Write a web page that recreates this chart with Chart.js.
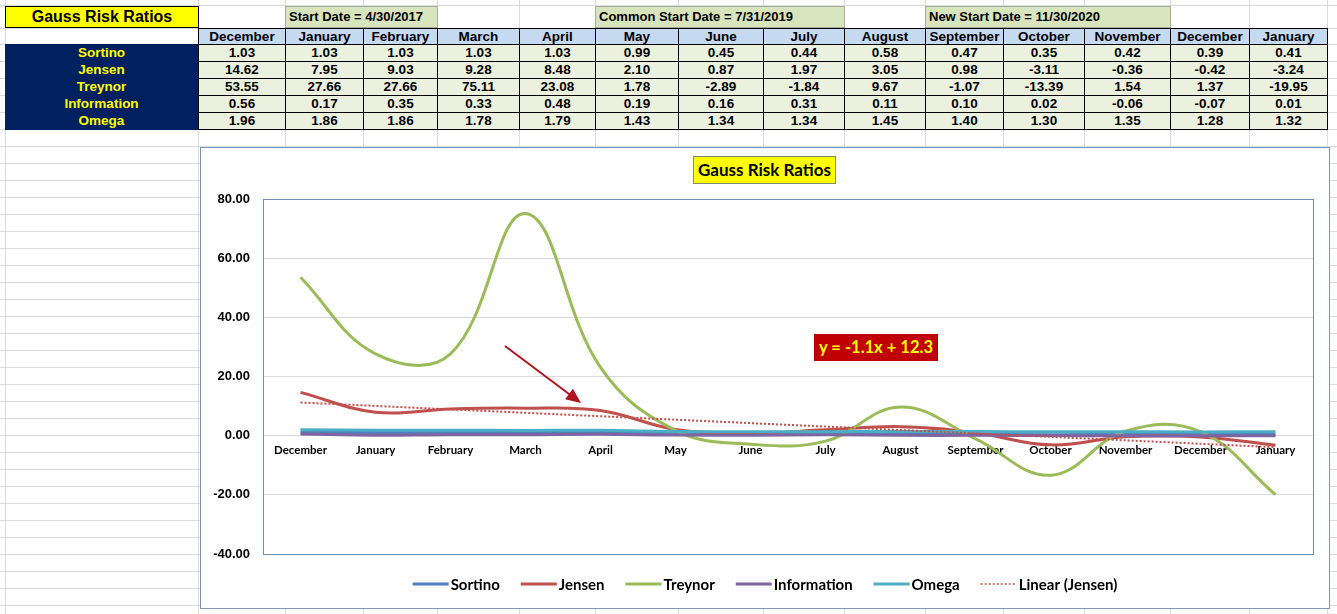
<!DOCTYPE html>
<html>
<head>
<meta charset="utf-8">
<title>Gauss Risk Ratios</title>
<script src="https://cdn.jsdelivr.net/npm/chart.js@4.4.0/dist/chart.umd.min.js"></script>
<style>
  body { margin: 0; width: 1337px; height: 614px; overflow: hidden; background: #fff; position: relative;
         font-family: "Liberation Sans", Arial, sans-serif; }
  .gv { position: absolute; top: 0; width: 1px; height: 614px; background: #dadada; }
  .gh { position: absolute; left: 0; width: 1337px; height: 1px; background: #dadada; }
  .cell { position: absolute; box-sizing: border-box; font-weight: bold; font-size: 13.5px; text-align: center;
          white-space: nowrap; overflow: hidden; }
  #chartWrap { position: absolute; left: 200px; top: 147px; width: 1130px; height: 462px; box-sizing: border-box;
               border: 1px solid #7b98b9; background: #fff; }
  #chartWrap canvas { position: absolute; left: 0; top: 0; }
  #chartTitle { position: absolute; left: 492px; top: 8px; width: 143px; height: 28px; box-sizing: border-box;
                background: #ffff00; border: 1px solid #7f8f6a; font: bold 17px Lato, sans-serif;
                line-height: 26px; text-align: center; color: #000; }
  #eqBox { position: absolute; left: 613px; top: 186px; width: 124px; height: 27px; background: #c00000;
           font: bold 16.5px Lato, sans-serif; line-height: 27px; text-align: center; color: #ffff00; }
</style>
</head>
<body>
<div id="grid"></div>
<div id="sheet"></div>
<div id="chartWrap">
  <canvas id="myChart" width="1128" height="460"></canvas>
  <div id="chartTitle">Gauss Risk Ratios</div>
  <div id="eqBox">y = -1.1x + 12.3</div>
</div>
<script>
// data from the sheet
const months = ['December', 'January', 'February', 'March', 'April', 'May', 'June', 'July',
                'August', 'September', 'October', 'November', 'December', 'January'];
const sortino = [1.03, 1.03, 1.03, 1.03, 1.03, 0.99, 0.45, 0.44, 0.58, 0.47, 0.35, 0.42, 0.39, 0.41];
const jensen = [14.62, 7.95, 9.03, 9.28, 8.48, 2.10, 0.87, 1.97, 3.05, 0.98, -3.11, -0.36, -0.42, -3.24];
const treynor = [53.55, 27.66, 27.66, 75.11, 23.08, 1.78, -2.89, -1.84, 9.67, -1.07, -13.39, 1.54, 1.37, -19.95];
const information = [0.56, 0.17, 0.35, 0.33, 0.48, 0.19, 0.16, 0.31, 0.11, 0.10, 0.02, -0.06, -0.07, 0.01];
const omega = [1.96, 1.86, 1.86, 1.78, 1.79, 1.43, 1.34, 1.34, 1.45, 1.40, 1.30, 1.35, 1.28, 1.32];
const yTicks = [-40, -20, 0, 20, 40, 60, 80];
const startDates = ['Start Date = 4/30/2017', 'Common Start Date = 7/31/2019', 'New Start Date = 11/30/2020'];

// sheet layout
const colX = [5, 198, 285, 363, 437, 519, 595, 678, 763, 844, 925, 1003, 1084, 1170, 1249, 1327];
const dateCols = [[2, 4], [6, 9], [10, 13]]; // [first col edge, last col edge]
const rowTitle = 5, rowHead = 28, rowData = 44, rowH = 17;

// spreadsheet gridlines
const grid = document.getElementById('grid');
colX.forEach(x => {
    const d = document.createElement('div');
    d.className = 'gv';
    d.style.left = x + 'px';
    grid.appendChild(d);
});
const rowLines = [rowTitle, rowHead];
for (let y = rowData; y < 614; y += rowH) rowLines.push(y);
rowLines.forEach(y => {
    const d = document.createElement('div');
    d.className = 'gh';
    d.style.top = y + 'px';
    grid.appendChild(d);
});

const sheet = document.getElementById('sheet');
function addCell(text, x0, x1, y0, y1, style) {
    const d = document.createElement('div');
    d.className = 'cell';
    d.textContent = text;
    d.style.left = x0 + 'px';
    d.style.top = y0 + 'px';
    d.style.width = (x1 - x0) + 'px';
    d.style.height = (y1 - y0) + 'px';
    d.style.lineHeight = (y1 - y0 - 2) + 'px';
    Object.assign(d.style, style || {});
    sheet.appendChild(d);
    return d;
}

// title cell
addCell('Gauss Risk Ratios', colX[0], colX[1] + 1, 6, 28,
    { background: '#ffff00', border: '1px solid #000', fontSize: '16px', lineHeight: '20px' });

// start date boxes
startDates.forEach((t, i) => {
    addCell(t, colX[dateCols[i][0]], colX[dateCols[i][1]] + 1, 6, 28,
        { background: '#d8e4bc', border: '1px solid #a8a8a8', textAlign: 'left', paddingLeft: '3px',
          lineHeight: '20px', fontSize: '13px' });
});

// month header row
months.forEach((m, i) => {
    addCell(m, colX[i + 1], colX[i + 2] + 1, rowHead, rowData + 1,
        { background: '#c5d9f1', border: '1px solid #000', lineHeight: '15px' });
});

// navy label block
const rows = [['Sortino', sortino], ['Jensen', jensen], ['Treynor', treynor],
              ['Information', information], ['Omega', omega]];
addCell('', colX[0], colX[1], rowData, rowData + rowH * rows.length + 1, { background: '#002060' });
rows.forEach((r, ri) => {
    const y0 = rowData + ri * rowH;
    addCell(r[0], colX[0], colX[1], y0, y0 + rowH, { color: '#ffff00', lineHeight: '17px' });
    r[1].forEach((v, i) => {
        addCell(v.toFixed(2), colX[i + 1], colX[i + 2] + 1, y0, y0 + rowH + 1,
            { background: '#ebf1de', border: '1px solid #000', lineHeight: '15px' });
    });
});

// linear trend of Jensen (least squares, x = 1..n like the spreadsheet)
function linearTrend(vals) {
    const n = vals.length;
    let sx = 0, sy = 0, sxy = 0, sxx = 0;
    vals.forEach((v, i) => { const x = i + 1; sx += x; sy += v; sxy += x * v; sxx += x * x; });
    const slope = (n * sxy - sx * sy) / (n * sxx - sx * sx);
    const icpt = (sy - slope * sx) / n;
    return vals.map((v, i) => slope * (i + 1) + icpt);
}
const jensenTrend = linearTrend(jensen);

function series(label, data, color, order) {
    return {
        label: label,
        data: data,
        borderColor: color,
        backgroundColor: color,
        borderWidth: 3,
        pointRadius: 0,
        pointHoverRadius: 0,
        tension: 0.4,
        fill: false,
        order: order,
    };
}

// plot frame, arrow and legend
const extras = {
    id: 'extras',
    afterDraw(chart) {
        const ctx = chart.ctx;
        const a = chart.chartArea;
        ctx.save();
        ctx.strokeStyle = '#6d8db3';
        ctx.lineWidth = 1;
        ctx.strokeRect(Math.round(a.left) + 0.5, Math.round(a.top) + 0.5,
            Math.round(a.right - a.left), Math.round(a.bottom - a.top));

        // arrow
        const x0 = a.left + 242, y0 = a.top + 147, x1 = a.left + 318, y1 = a.top + 204;
        const ang = Math.atan2(y1 - y0, x1 - x0);
        ctx.strokeStyle = '#b0121f';
        ctx.fillStyle = '#b0121f';
        ctx.lineWidth = 2;
        ctx.beginPath();
        ctx.moveTo(x0, y0);
        ctx.lineTo(x1 - 10 * Math.cos(ang), y1 - 10 * Math.sin(ang));
        ctx.stroke();
        ctx.beginPath();
        ctx.moveTo(x1, y1);
        ctx.lineTo(x1 - 15 * Math.cos(ang) + 6.5 * Math.sin(ang), y1 - 15 * Math.sin(ang) - 6.5 * Math.cos(ang));
        ctx.lineTo(x1 - 15 * Math.cos(ang) - 6.5 * Math.sin(ang), y1 - 15 * Math.sin(ang) + 6.5 * Math.cos(ang));
        ctx.closePath();
        ctx.fill();

        // legend
        ctx.font = 'bold 15px Lato, sans-serif';
        const sample = 36, gapText = 2, gapItem = 21;
        const items = chart.data.datasets.map(ds => ({
            ds: ds, w: sample + gapText + ctx.measureText(ds.label).width
        }));
        let total = gapItem * (items.length - 1);
        items.forEach(it => { total += it.w; });
        let x = (chart.width - total) / 2;
        const y = 436;
        items.forEach(it => {
            ctx.save();
            ctx.strokeStyle = it.ds.borderColor;
            ctx.lineWidth = it.ds.borderDash ? 1.5 : 3;
            ctx.setLineDash(it.ds.borderDash || []);
            ctx.beginPath();
            ctx.moveTo(x, y);
            ctx.lineTo(x + sample, y);
            ctx.stroke();
            ctx.restore();
            ctx.fillStyle = '#000';
            ctx.textBaseline = 'middle';
            ctx.textAlign = 'left';
            ctx.fillText(it.ds.label, x + sample + gapText, y + 1);
            x += it.w + gapItem;
        });
        ctx.restore();
    }
};

const ctx = document.getElementById('myChart').getContext('2d');
const chart = new Chart(ctx, {
    type: 'line',
    data: {
        labels: months,
        datasets: [
            series('Sortino', sortino, '#4f81bd', 5),
            series('Jensen', jensen, '#c0504d', 4),
            series('Treynor', treynor, '#9bbb59', 3),
            series('Information', information, '#8064a2', 2),
            series('Omega', omega, '#4bacc6', 1),
            {
                label: 'Linear (Jensen)',
                data: jensenTrend,
                borderColor: '#c0504d',
                borderWidth: 2,
                borderDash: [2, 2],
                pointRadius: 0,
                pointHoverRadius: 0,
                tension: 0,
                fill: false,
                order: 0,
            },
        ],
    },
    options: {
        responsive: false,
        animation: false,
        layout: { padding: { top: 51, right: 16, bottom: 54, left: 0 } },
        plugins: {
            legend: { display: false },
            tooltip: { enabled: false },
        },
        scales: {
            x: {
                offset: true,
                position: { y: 0 },
                grid: { display: false, drawTicks: false },
                border: { display: false },
                ticks: {
                    autoSkip: false,
                    maxRotation: 0,
                    padding: 8,
                    color: '#000',
                    font: { family: 'Lato', weight: 'bold', size: 11.5 },
                },
            },
            y: {
                min: -40,
                max: 80,
                afterBuildTicks: (scale) => { scale.ticks = yTicks.map(v => ({ value: v })); },
                afterFit: (scale) => { scale.width = 62; },
                grid: { color: '#d9d9d9', drawTicks: false },
                border: { display: false },
                ticks: {
                    padding: 13,
                    color: '#000',
                    callback: (v) => Number(v).toFixed(2),
                    font: { family: '"Liberation Sans", Arial', weight: 'bold', size: 13 },
                },
            },
        },
    },
    plugins: [extras],
});
</script>
</body>
</html>
